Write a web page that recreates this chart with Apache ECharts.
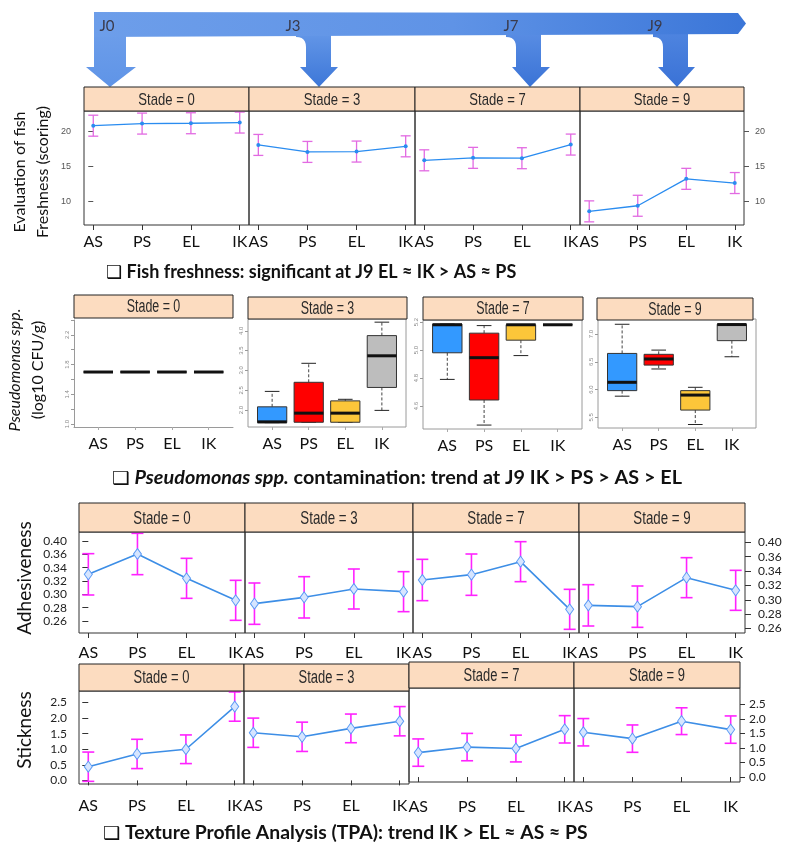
<!DOCTYPE html>
<html><head><meta charset="utf-8">
<script src="https://cdn.jsdelivr.net/npm/echarts@6/dist/echarts.min.js"></script>
<style>html,body{margin:0;padding:0;background:#fff}#c{width:792px;height:846px}</style>
</head><body><div id="c"></div>
<script>
// ---------------- DATA ----------------
const categories = ['AS', 'PS', 'EL', 'IK'];
const stades = ['Stade = 0', 'Stade = 3', 'Stade = 7', 'Stade = 9'];
const days = ['J0', 'J3', 'J7', 'J9'];

// Fish freshness (scoring), mean per treatment, error half-width
const fishJ0 = [20.8, 21.1, 21.15, 21.25];
const fishJ3 = [18.05, 17.05, 17.1, 17.85];
const fishJ7 = [15.85, 16.2, 16.15, 18.1];
const fishJ9 = [8.55, 9.35, 13.2, 12.6];
const fishErr = [1.5, 1.5, 1.5, 1.5];
const fishTicks = [10, 15, 20];

// Pseudomonas spp. (log10 CFU/g): [min, q1, median, q3, max]
const pseudoJ0 = [[1.7,1.7,1.7,1.7,1.7],[1.7,1.7,1.7,1.7,1.7],[1.7,1.7,1.7,1.7,1.7],[1.7,1.7,1.7,1.7,1.7]];
const pseudoJ3 = [[1.68,1.68,1.70,2.08,2.47],[1.69,1.69,1.92,2.70,3.18],[1.69,1.69,1.92,2.23,2.27],[1.99,2.57,3.37,3.88,4.22]];
const pseudoJ7 = [[4.79,4.98,5.18,5.185,5.185],[4.464,4.643,4.945,5.12,5.174],[4.96,5.07,5.18,5.18,5.18],[5.18,5.18,5.18,5.18,5.18]];
const pseudoJ9 = [[5.88,5.98,6.13,6.65,7.175],[6.37,6.44,6.55,6.634,6.71],[5.37,5.63,5.90,5.98,6.04],[6.59,6.88,7.17,7.175,7.175]];
const pseudoTicks0 = [1.0, 1.2, 1.4, 1.6, 1.8, 2.0, 2.2, 2.4];
const pseudoLabels0 = [1.0, 1.4, 1.8, 2.2];
const pseudoTicks3 = [2.0, 2.5, 3.0, 3.5, 4.0];
const pseudoTicks7 = [4.6, 4.8, 5.0, 5.2];
const pseudoTicks9 = [5.5, 6.0, 6.5, 7.0];

// Adhesiveness
const adhJ0 = [0.330, 0.3605, 0.324, 0.291];
const adhJ3 = [0.286, 0.2955, 0.308, 0.304];
const adhJ7 = [0.3215, 0.3295, 0.349, 0.2775];
const adhJ9 = [0.2835, 0.2815, 0.325, 0.306];
const adhErr = [0.031, 0.031, 0.030, 0.030];
const adhTickValues = [0.26, 0.28, 0.30, 0.32, 0.34, 0.36, 0.38];
const adhTickLabels = ['0.26', '0.28', '0.30', '0.32', '0.34', '0.36', '0.40'];

// Stickness
const stickJ0 = [0.44, 0.85, 1.0, 2.37];
const stickJ3 = [1.53, 1.40, 1.67, 1.90];
const stickJ7 = [0.84, 1.03, 0.98, 1.64];
const stickJ9 = [1.54, 1.32, 1.92, 1.63];
const stickErr = [0.47, 0.47, 0.46, 0.47];
const stickTicks = [0, 0.5, 1.0, 1.5, 2.0, 2.5];

// ---------------- STYLE ----------------
const FONT = 'Lato, "DejaVu Sans", sans-serif';
const HFONT = '"Liberation Sans", Arial, sans-serif';
const boxColors = ['#3399ff', '#ff0000', '#fcc63a', '#bdbdbd'];
const headerFill = '#fcdcc0';
const catIdx = [0, 1, 2, 3];
const boxIdx = [1, 2, 3, 4];

const grids = [], xAxes = [], yAxes = [], series = [], graphics = [];

function addGrid(l, t, r, b, border) {
  grids.push({left: l, top: t, width: r - l, height: b - t, show: !!border,
    borderColor: border || '#333', borderWidth: 1, backgroundColor: 'transparent'});
  return grids.length - 1;
}
function addX(c) { xAxes.push(c); return xAxes.length - 1; }
function addY(c) { yAxes.push(c); return yAxes.length - 1; }

function catX(g, fontSize, margin) {
  return addX({type: 'value', gridIndex: g, min: -0.19, max: 3.19,
    axisLine: {show: false}, splitLine: {show: false},
    axisTick: {show: true, customValues: catIdx, length: 5, lineStyle: {color: '#333'}},
    axisLabel: {show: true, customValues: catIdx, formatter: v => categories[Math.round(v)],
      fontFamily: FONT, fontSize: fontSize, color: '#111', margin: margin}});
}
function valY(g, min, max, o) {
  o = o || {};
  const a = {type: 'value', gridIndex: g, min: min, max: max, position: o.position || 'left',
    axisLine: {show: !!o.axisLine, lineStyle: {color: o.lineColor || '#333'}}, splitLine: {show: false}};
  if (o.ticks) {
    a.axisTick = {show: true, inside: false, customValues: o.ticks, length: o.tickLen || 5, lineStyle: {color: o.tickColor || '#333'}};
    a.axisLabel = {show: true, customValues: o.labels || o.ticks, formatter: o.fmt,
      fontFamily: o.font || FONT, fontSize: o.fontSize || 12, color: o.color || '#222',
      margin: o.margin || 8, rotate: o.rotate || 0};
  } else {
    a.axisTick = {show: false}; a.axisLabel = {show: false};
  }
  return addY(a);
}
function errRender(cap, color, width) {
  return function (params, api) {
    const x = api.value(0), v = api.value(1), e = api.value(2);
    const t = api.coord([x, v + e]), b = api.coord([x, v - e]);
    const st = {stroke: color, lineWidth: width};
    return {type: 'group', children: [
      {type: 'line', shape: {x1: t[0], y1: t[1], x2: b[0], y2: b[1]}, style: st},
      {type: 'line', shape: {x1: t[0] - cap, y1: t[1], x2: t[0] + cap, y2: t[1]}, style: st},
      {type: 'line', shape: {x1: b[0] - cap, y1: b[1], x2: b[0] + cap, y2: b[1]}, style: st}
    ]};
  };
}
function boxRender(params, api) {
  const x = api.value(0);
  const mn = api.value(1), q1 = api.value(2), md = api.value(3), q3 = api.value(4), mx = api.value(5);
  const w = api.size([0.8, 0])[0], cw = api.size([0.4, 0])[0];
  const P = v => api.coord([x, v]);
  const pmn = P(mn), pq1 = P(q1), pmd = P(md), pq3 = P(q3), pmx = P(mx);
  const cx = pmd[0];
  const dash = {stroke: '#444', lineWidth: 1, lineDash: [3, 2]};
  const solid = {stroke: '#222', lineWidth: 1};
  const ch = [];
  if (mx > q3) ch.push({type: 'line', shape: {x1: cx, y1: pq3[1], x2: cx, y2: pmx[1]}, style: dash});
  if (mn < q1) ch.push({type: 'line', shape: {x1: cx, y1: pq1[1], x2: cx, y2: pmn[1]}, style: dash});
  ch.push({type: 'line', shape: {x1: cx - cw / 2, y1: pmx[1], x2: cx + cw / 2, y2: pmx[1]}, style: solid});
  ch.push({type: 'line', shape: {x1: cx - cw / 2, y1: pmn[1], x2: cx + cw / 2, y2: pmn[1]}, style: solid});
  ch.push({type: 'rect', shape: {x: cx - w / 2, y: pq3[1], width: w, height: pq1[1] - pq3[1]},
    style: {fill: boxColors[params.dataIndex], stroke: '#333', lineWidth: 1}});
  ch.push({type: 'line', shape: {x1: cx - w / 2, y1: pmd[1], x2: cx + w / 2, y2: pmd[1]}, style: {stroke: '#111', lineWidth: 3}});
  return {type: 'group', children: ch};
}
function header(l, r, t, b, text, fs, sx) {
  graphics.push({type: 'rect', z: 10, shape: {x: l, y: t, width: r - l, height: b - t},
    style: {fill: headerFill, stroke: '#222', lineWidth: 1}});
  graphics.push({type: 'text', z: 11, x: (l + r) / 2, y: (t + b) / 2 + 1, scaleX: sx,
    style: {text: text, font: fs + 'px ' + HFONT, fill: '#2a2a2a',
      align: 'center', verticalAlign: 'middle', textAlign: 'center', textVerticalAlign: 'middle'}});
}
function linePanel(l, r, t, b, vals, err, yMin, yMax, yOpt, s, rightOpt) {
  const g = addGrid(l, t, r, b, '#333');
  const xi = catX(g, s.xFont, s.xMargin);
  const yi = valY(g, yMin, yMax, yOpt);
  if (rightOpt) valY(g, rightOpt.min, rightOpt.max, rightOpt);
  series.push({type: 'custom', xAxisIndex: xi, yAxisIndex: yi, z: 2,
    renderItem: errRender(s.cap, s.errColor, s.errWidth),
    data: vals.map((v, i) => [i, v, err[i]])});
  series.push({type: 'line', xAxisIndex: xi, yAxisIndex: yi, z: 3,
    data: vals.map((v, i) => [i, v]), symbol: s.symbol, symbolSize: s.symbolSize, showSymbol: true,
    lineStyle: {color: s.line, width: s.lineWidth}, itemStyle: s.item, emphasis: {disabled: true}});
  return g;
}

// ---------------- TOP ARROWS ----------------
function arrowPts(sl, sr, hl, hr, tx, fillet) {
  const pts = [];
  pts.push(fillet ? [sl - 10, 30] : [sl, 30]);
  pts.push([sr, 30], [sr, 67], [hr, 67], [tx, 87], [hl, 67], [sl, 67]);
  if (fillet) {
    for (let k = 0; k <= 6; k++) {
      const t = k / 6;
      const x = (1 - t) * (1 - t) * sl + 2 * (1 - t) * t * sl + t * t * (sl - 10);
      const y = (1 - t) * (1 - t) * 47 + 2 * (1 - t) * t * 37 + t * t * 37;
      pts.push([x, y]);
    }
  }
  return pts;
}
const G = echarts.graphic;
const arrowDefs = [
  {pts: arrowPts(94, 126, 86, 136, 110, false), c0: '#6d9eea', c1: '#5f94e7'},
  {pts: arrowPts(306, 331, 300, 338, 319, true), c0: '#6598e8', c1: '#3d77d8'},
  {pts: arrowPts(516, 541, 512, 550, 530, true), c0: '#5a8ee4', c1: '#3a73d6'},
  {pts: arrowPts(663, 688, 658, 695, 677, true), c0: '#4f85e0', c1: '#3a72d6'}
];
arrowDefs.forEach(a => {
  graphics.push({type: 'polygon', z: 5, shape: {points: a.pts},
    style: {fill: new G.LinearGradient(0, 0, 0, 1, [{offset: 0, color: a.c0}, {offset: 1, color: a.c1}])}});
});
graphics.push({type: 'polygon', z: 6, shape: {points: [[94, 12], [738, 13], [746, 23.5], [738, 34], [94, 37]]},
  style: {fill: new G.LinearGradient(0, 0, 1, 0, [{offset: 0, color: '#6d9eea'}, {offset: 0.55, color: '#5f93e6'}, {offset: 1, color: '#3b76d8'}])}});
const dayX = [107, 293, 511, 655];
days.forEach((d, i) => graphics.push({type: 'text', z: 7, x: dayX[i], y: 26,
  style: {text: d, font: '15px ' + FONT, fill: '#3a3a4a', align: 'center', verticalAlign: 'middle', textAlign: 'center', textVerticalAlign: 'middle'}}));

// ---------------- FISH FRESHNESS ----------------
const fishStyle = {xFont: 16, xMargin: 9, cap: 5, errColor: '#e26ae2', errWidth: 1.3, symbol: 'circle', symbolSize: 4,
  line: '#2a8cf0', lineWidth: 1.3, item: {color: '#2a8cf0'}};
const fishE = [84, 249, 415, 580, 744];
const fishAxisStyle = {ticks: fishTicks, fontSize: 9, color: '#555', tickColor: '#555', font: '"Liberation Sans", sans-serif'};
[fishJ0, fishJ3, fishJ7, fishJ9].forEach((vals, i) => {
  const yo = i === 0 ? Object.assign({margin: 13}, fishAxisStyle) : {};
  const ro = i === 3 ? Object.assign({margin: 11, position: 'right', min: 6.6, max: 22.9}, fishAxisStyle) : null;
  linePanel(fishE[i], fishE[i + 1], 111, 225, vals, fishErr, 6.6, 22.9, yo, fishStyle, ro);
  header(fishE[i], fishE[i + 1], 87, 111, stades[i], 17, 0.77);
});

// ---------------- PSEUDOMONAS ----------------
const pL = [
  {l: 74, r: 233, t: 320, b: 427, hl: 74, hr: 233, ht: 295, hb: 318, min: 0.96, max: 2.40, ticks: pseudoTicks0, labels: pseudoLabels0, data: pseudoJ0, frame: false},
  {l: 248, r: 406, t: 319, b: 427, hl: 248, hr: 407, ht: 297, hb: 319, min: 1.57, max: 4.30, ticks: pseudoTicks3, labels: pseudoTicks3, data: pseudoJ3, frame: true},
  {l: 423, r: 582, t: 320, b: 429, hl: 423, hr: 583, ht: 297, hb: 320, min: 4.436, max: 5.214, ticks: pseudoTicks7, labels: pseudoTicks7, data: pseudoJ7, frame: true},
  {l: 598, r: 756, t: 319, b: 428, hl: 597, hr: 753, ht: 298, hb: 320, min: 5.307, max: 7.27, ticks: pseudoTicks9, labels: pseudoTicks9, data: pseudoJ9, frame: true}
];
pL.forEach((p, i) => {
  const g = addGrid(p.l, p.t, p.r, p.b, p.frame ? '#9a9a9a' : null);
  const xi = addX({type: 'value', gridIndex: g, min: 0.34, max: 4.66,
    axisLine: {show: !p.frame, lineStyle: {color: '#9a9a9a'}}, splitLine: {show: false},
    axisTick: {show: true, customValues: boxIdx, length: 3, lineStyle: {color: '#aaa'}},
    axisLabel: {show: true, customValues: boxIdx, formatter: v => categories[Math.round(v) - 1],
      fontFamily: FONT, fontSize: 16, color: '#111', margin: 9}});
  const yi = valY(g, p.min, p.max, {ticks: p.ticks, labels: p.labels, fmt: v => v.toFixed(1),
    fontSize: 6, color: '#888', tickColor: '#999', tickLen: 3, margin: 4, rotate: 90,
    axisLine: !p.frame, lineColor: '#9a9a9a', font: '"Liberation Sans", sans-serif'});
  series.push({type: 'custom', xAxisIndex: xi, yAxisIndex: yi, z: 3, renderItem: boxRender,
    data: p.data.map((d, k) => [k + 1].concat(d))});
  header(p.hl, p.hr, p.ht, p.hb, stades[i], 18, 0.69);
});

// ---------------- ADHESIVENESS ----------------
const tpaStyle = {xFont: 16, xMargin: 12, cap: 6, errColor: '#ff22ff', errWidth: 1.6, symbol: 'diamond', symbolSize: [8, 11],
  line: '#3d8ee6', lineWidth: 1.6, item: {color: '#d6e5ff', borderColor: '#5b9bf5', borderWidth: 1}};
const adhE = [79, 245, 413, 579, 745];
const adhFmt = v => adhTickLabels[adhTickValues.indexOf(v)];
[adhJ0, adhJ3, adhJ7, adhJ9].forEach((vals, i) => {
  const yo = i === 0 ? {ticks: adhTickValues, fmt: adhFmt, fontSize: 12, margin: 12, tickLen: 6} : {};
  const ro = i === 3 ? {min: 0.2537, max: 0.3945, ticks: adhTickValues, fmt: adhFmt, fontSize: 12, margin: 13, tickLen: 6, position: 'right'} : null;
  linePanel(adhE[i], adhE[i + 1], 532, 633, vals, adhErr, 0.242, 0.3935, yo, tpaStyle, ro);
  header(adhE[i], adhE[i + 1], 503, 532, stades[i], 19, 0.7);
});

// ---------------- STICKNESS ----------------
const stE = [79, 244, 409, 574, 740];
const stickFmt = v => v.toFixed(1);
[stickJ0, stickJ3, stickJ7, stickJ9].forEach((vals, i) => {
  const left = i < 2;
  const yMin = left ? -0.115 : -0.17, yMax = left ? 2.87 : 3.06;
  const yo = i === 0 ? {ticks: stickTicks, fmt: stickFmt, fontSize: 12, margin: 12, tickLen: 6} : {};
  const ro = i === 3 ? {min: yMin, max: yMax, ticks: stickTicks, fmt: stickFmt, fontSize: 12, margin: 9, tickLen: 5, position: 'right'} : null;
  const s = Object.assign({}, tpaStyle, {xMargin: left ? 14 : 17});
  linePanel(stE[i], stE[i + 1], left ? 691 : 688, left ? 784 : 782, vals, stickErr, yMin, yMax, yo, s, ro);
  header(stE[i], stE[i + 1], left ? 664 : 662, left ? 691 : 688, stades[i], 18, 0.72);
});

// ---------------- TITLES / CAPTIONS ----------------
function vtext(x, y, text, extra) {
  graphics.push({type: 'text', z: 20, x: x, y: y, rotation: Math.PI / 2,
    style: Object.assign({text: text, align: 'center', verticalAlign: 'middle', textAlign: 'center', textVerticalAlign: 'middle',
      fill: '#111'}, extra)});
}
vtext(31.5, 172, 'Evaluation of fish\nFreshness (scoring)', {font: '16px ' + FONT, lineHeight: 23});
vtext(26.5, 370, '{i|Pseudomonas spp.}\n{n|(log10 CFU/g)}', {lineHeight: 23,
  rich: {i: {fontFamily: FONT, fontSize: 16, fontStyle: 'italic', fill: '#111', color: '#111', lineHeight: 23},
         n: {fontFamily: FONT, fontSize: 16, fill: '#111', color: '#111', lineHeight: 23}}});
vtext(25, 578, 'Adhesiveness', {font: '19px ' + FONT});
vtext(25, 730, 'Stickness', {font: '19px ' + FONT});

function caption(x, y, text, sx, rich) {
  graphics.push({type: 'text', z: 20, x: x, y: y, scaleX: sx,
    style: Object.assign({text: text, font: 'bold 18px ' + FONT, fill: '#111',
      verticalAlign: 'middle', textVerticalAlign: 'middle'}, rich ? {rich: rich} : {})});
}
const capB = {fontFamily: FONT, fontSize: 18, fontWeight: 'bold', fill: '#111', color: '#111'};
caption(106, 272, '❑ Fish freshness: significant at J9 EL ≈ IK > AS ≈ PS', 1.0);
caption(112, 478, '{b|❑ }{bi|Pseudomonas spp.}{b| contamination: trend at J9 IK > PS > AS > EL}', 1.1,
  {b: capB, bi: Object.assign({}, capB, {fontStyle: 'italic'})});
caption(103, 833, '❑ Texture Profile Analysis (TPA): trend IK > EL ≈ AS ≈ PS', 1.075);

const chart = echarts.init(document.getElementById('c'), null, {renderer: 'canvas'});
chart.setOption({
  animation: false,
  backgroundColor: '#fff',
  textStyle: {fontFamily: FONT},
  grid: grids, xAxis: xAxes, yAxis: yAxes, series: series, graphic: {elements: graphics}
});
</script>
</body></html>
